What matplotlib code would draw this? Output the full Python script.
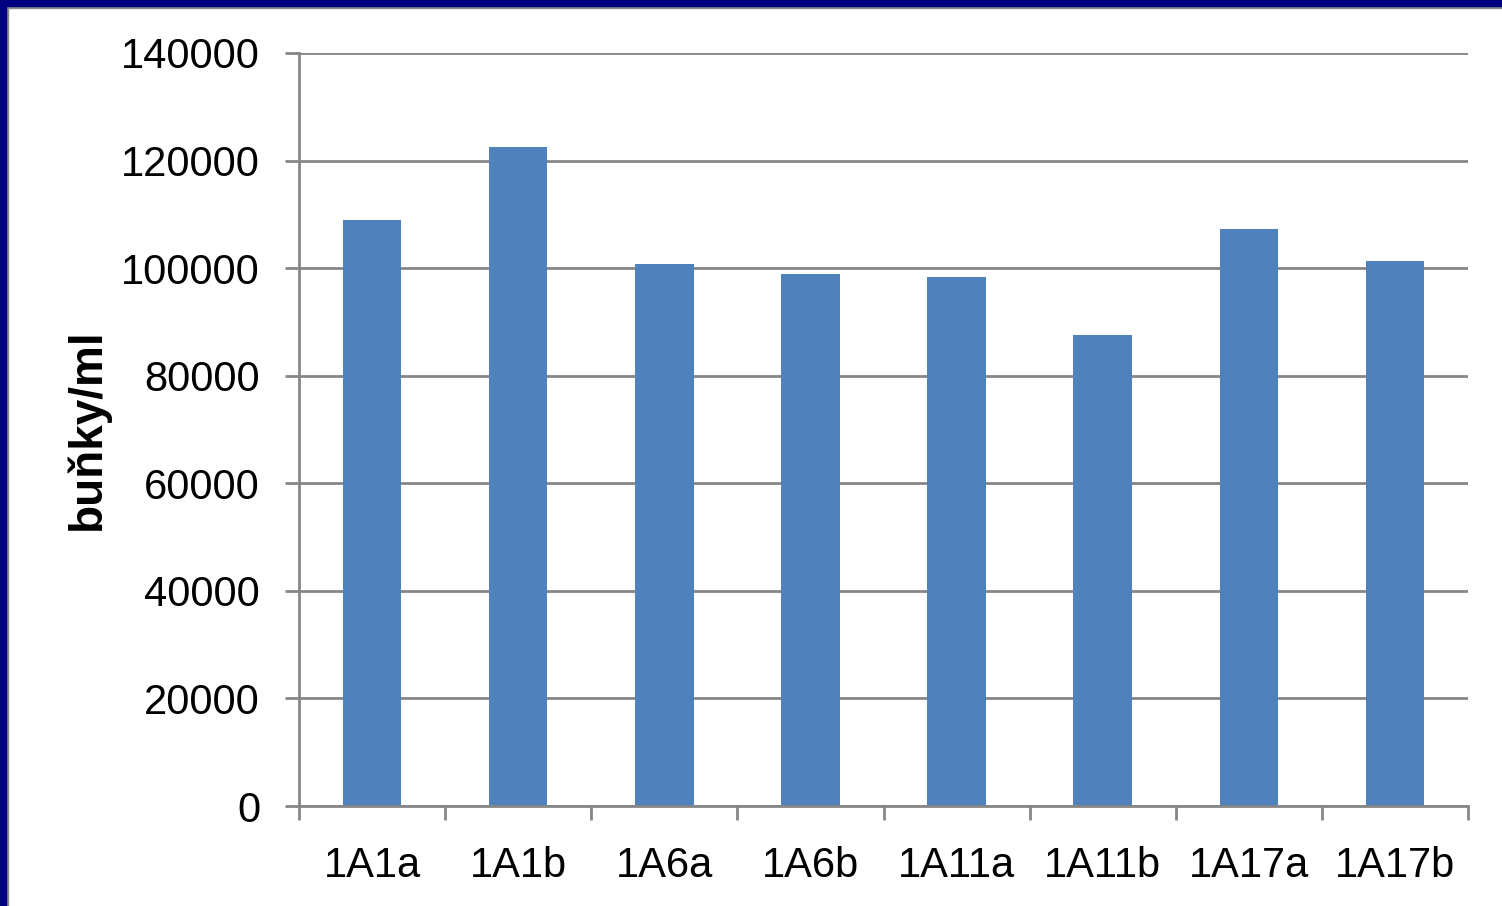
import matplotlib
matplotlib.use('Agg')
import matplotlib.pyplot as plt
from matplotlib.patches import Rectangle
from matplotlib.ticker import MultipleLocator, FixedLocator

categories = ['1A1a', '1A1b', '1A6a', '1A6b', '1A11a', '1A11b', '1A17a', '1A17b']
values = [109000, 122500, 100800, 98900, 98400, 87600, 107300, 101300]

plt.rcParams['font.family'] = ['Liberation Sans', 'DejaVu Sans']

W, H = 1502, 906
fig = plt.figure(figsize=(W / 100, H / 100), dpi=100, facecolor='white')
ax = fig.add_axes([299 / W, (H - 806) / H, (1468 - 299) / W, (806 - 53) / H])

grid_c = '#868686'
x = list(range(len(categories)))
ax.bar(x, values, width=0.4, color='#4F81BD', zorder=3)

ax.set_xlim(-0.5, len(categories) - 0.5)
ax.set_ylim(0, 140000)
ax.yaxis.set_major_locator(MultipleLocator(20000))
ax.grid(axis='y', color=grid_c, linewidth=2, zorder=0)

for s in ['top', 'right']:
    ax.spines[s].set_visible(False)
for s in ['left', 'bottom']:
    ax.spines[s].set_color(grid_c)
    ax.spines[s].set_linewidth(2)
    ax.spines[s].set_zorder(4)

ax.set_xticks(x)
ax.set_xticklabels(categories)
ax.xaxis.set_minor_locator(FixedLocator([i - 0.5 for i in range(len(categories) + 1)]))
ax.tick_params(axis='x', which='major', length=0, pad=29, labelsize=30)
ax.tick_params(axis='x', which='minor', length=10, width=2, color=grid_c)
ax.tick_params(axis='y', length=10, width=2, color=grid_c, pad=18, labelsize=30)

ax.set_ylabel('buňky/ml', fontsize=33, fontweight='bold', labelpad=8)

# slide frame: navy band with grey edge on the top and left
fig.patches.append(Rectangle((0, 1 - 8 / H), 1, 8 / H, transform=fig.transFigure,
                             color='#8c8c8c', zorder=10))
fig.patches.append(Rectangle((0, 0), 8 / W, 1, transform=fig.transFigure,
                             color='#8c8c8c', zorder=10))
fig.patches.append(Rectangle((0, 1 - 6 / H), 1, 6 / H, transform=fig.transFigure,
                             color='#000080', zorder=11))
fig.patches.append(Rectangle((0, 0), 6 / W, 1, transform=fig.transFigure,
                             color='#000080', zorder=11))

fig.savefig('out.png', dpi=100, facecolor='white')
